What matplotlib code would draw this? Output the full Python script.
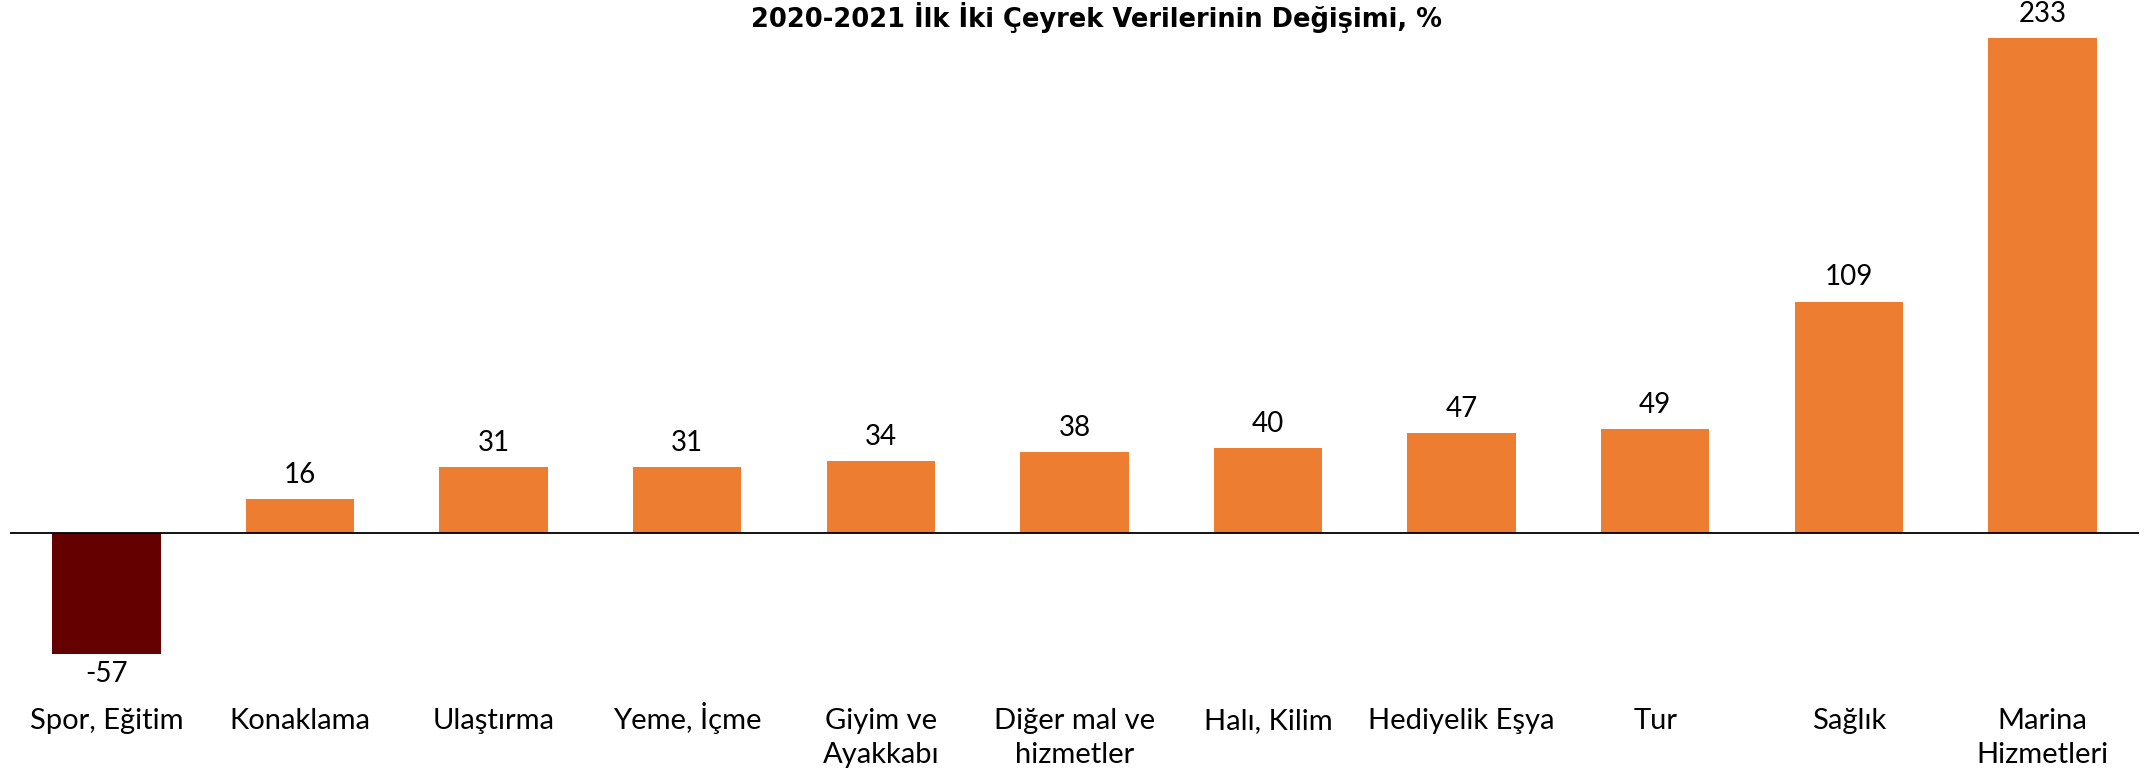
import matplotlib
matplotlib.use("Agg")
import matplotlib.pyplot as plt
import matplotlib.transforms as mtransforms

categories = ["Spor, Eğitim", "Konaklama", "Ulaştırma", "Yeme, İçme", "Giyim ve\nAyakkabı",
              "Diğer mal ve\nhizmetler", "Halı, Kilim", "Hediyelik Eşya", "Tur", "Sağlık",
              "Marina\nHizmetleri"]
values = [-57, 16, 31, 31, 34, 38, 40, 47, 49, 109, 233]
title = "2020-2021 İlk İki Çeyrek Verilerinin Değişimi, %"

ORANGE = "#ED7D31"
DARK = "#640000"
colors = [DARK if v < 0 else ORANGE for v in values]

W, H = 2150, 773
fig = plt.figure(figsize=(W / 100, H / 100), dpi=100)
ax = fig.add_axes([0.0045, 1 - 477 / 564, 0.995 - 0.0045, (477 - 28) / 564])

x = list(range(len(values)))
ax.bar(x, values, width=0.56, color=colors, zorder=2)
ax.set_xlim(-0.5, len(values) - 0.5)
ax.set_ylim(-57, 233)
ax.axhline(0, color="black", linewidth=1.3, zorder=3)
for s in ax.spines.values():
    s.set_visible(False)
ax.set_xticks([])
ax.set_yticks([])

font = "Lato"
for xi, v in zip(x, values):
    if v >= 0:
        ax.annotate(str(v), (xi, v), xytext=(0, 8), textcoords="offset points",
                    ha="center", va="bottom", fontsize=20, family=font, annotation_clip=False)
    else:
        ax.annotate(str(v), (xi, v), xytext=(0, -5), textcoords="offset points",
                    ha="center", va="top", fontsize=20, family=font, annotation_clip=False)

tr = mtransforms.blended_transform_factory(ax.transData, fig.transFigure)
base1 = 1 - 532 / 564
step = 25 / 564
for xi, c in zip(x, categories):
    for k, line in enumerate(c.split("\n")):
        ax.text(xi, base1 - k * step, line, transform=tr, ha="center", va="baseline",
                fontsize=21, family=font)

fig.text(0.51, 1 - 13 / 564, title, ha="center", va="center", fontsize=18.5,
         fontweight="bold", family="DejaVu Sans")

fig.savefig("out.png", dpi=100)
